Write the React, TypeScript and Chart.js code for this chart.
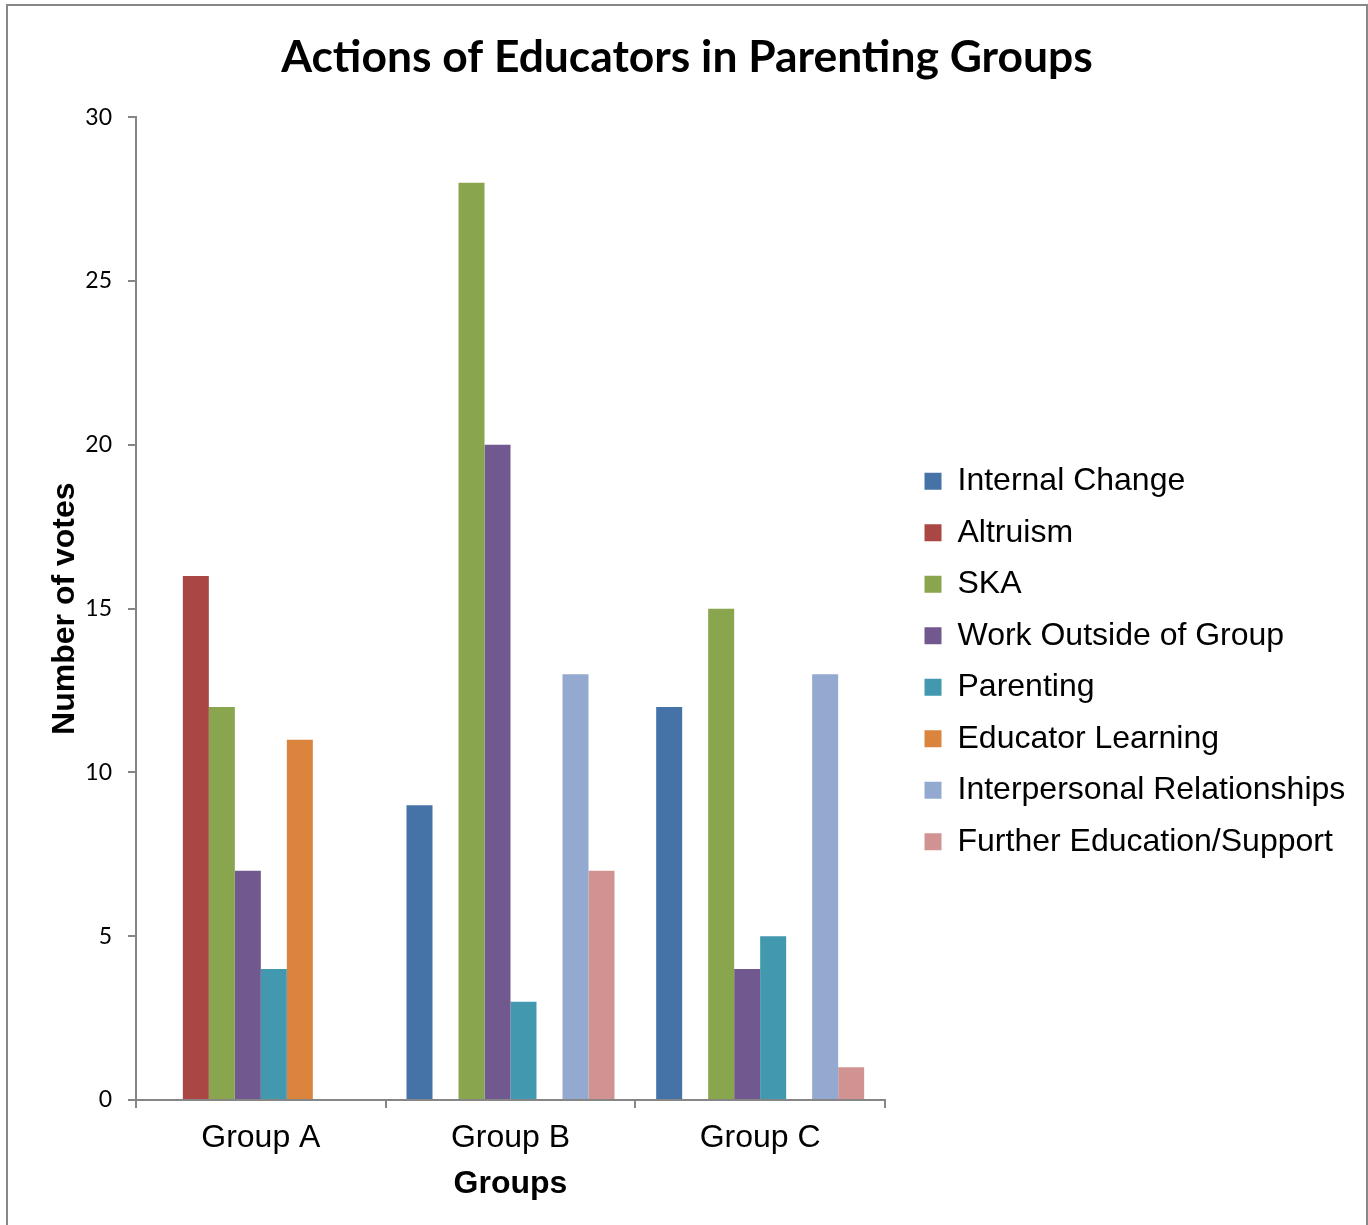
import React, { useEffect, useRef } from "react";
import { Chart, registerables } from "chart.js";

Chart.register(...registerables);

const categories = ["Group A", "Group B", "Group C"];
const seriesNames = [
  "Internal Change",
  "Altruism",
  "SKA",
  "Work Outside of Group",
  "Parenting",
  "Educator Learning",
  "Interpersonal Relationships",
  "Further Education/Support",
];
const internalChange = [0, 9, 12];
const altruism = [16, 0, 0];
const ska = [12, 28, 15];
const workOutside = [7, 20, 4];
const parenting = [4, 3, 5];
const educatorLearning = [11, 0, 0];
const interpersonal = [0, 13, 13];
const furtherEducation = [0, 7, 1];
const seriesColors = ["#4572A7", "#AA4643", "#89A54E", "#71588F", "#4198AF", "#DB843D", "#93A9CF", "#D19392"];
const yTicks = [0, 5, 10, 15, 20, 25, 30];

const AXIS = "#868686";
const ARIAL = "'Liberation Sans', Arial, sans-serif";

const layoutFix = {
  id: "layoutFix",
  afterLayout(chart: any) {
    const l = chart.legend;
    if (l) {
      const dx = 20;
      const dy = 52;
      l.left += dx;
      l.right = chart.width;
      l.width = l.right - l.left;
      l.top += dy;
      l.bottom += dy;
    }
    const t = chart.titleBlock;
    if (t) {
      t.left = 0;
      t.right = chart.width;
      t.width = chart.width;
    }
  },
};

export default function App() {
  const ref = useRef<HTMLCanvasElement | null>(null);
  useEffect(() => {
    if (!ref.current) return;
    const values = [internalChange, altruism, ska, workOutside, parenting, educatorLearning, interpersonal, furtherEducation];
    const chart = new Chart(ref.current, {
      type: "bar",
      data: {
        labels: categories,
        datasets: seriesNames.map((name, i) => ({
          label: name,
          data: values[i],
          backgroundColor: seriesColors[i],
          borderWidth: 0,
          barPercentage: 1,
          categoryPercentage: 0.833,
        })),
      },
      options: {
        animation: false,
        responsive: false,
        maintainAspectRatio: false,
        layout: { padding: { left: 34, right: 200, top: 0, bottom: 10 } },
        plugins: {
          title: {
            display: true,
            text: "Actions of Educators in Parenting Groups",
            color: "#000",
            font: { family: "Lato", weight: "bold", size: 44.4 },
            padding: { top: 25, bottom: 33 },
          },
          legend: {
            display: true,
            position: "right",
            align: "center",
            labels: {
              color: "#000",
              font: { family: ARIAL, size: 32 },
              boxWidth: 17,
              boxHeight: 17,
              padding: 19.5,
            },
          },
          tooltip: { enabled: false },
        },
        scales: {
          x: {
            afterFit(scale: any) {
              scale.height = 113;
            },
            grid: {
              display: true,
              drawOnChartArea: false,
              drawTicks: true,
              tickLength: 8,
              color: AXIS,
              lineWidth: 2,
              offset: true,
            },
            border: { display: true, color: AXIS, width: 2 },
            ticks: {
              color: "#000",
              font: { family: ARIAL, size: 32 },
              padding: 11,
            },
            title: {
              display: true,
              text: "Groups",
              color: "#000",
              font: { family: ARIAL, size: 32, weight: "bold" },
              padding: { top: 4, bottom: 10 },
            },
          },
          y: {
            min: 0,
            max: 30,
            afterFit(scale: any) {
              scale.width = 94;
            },
            afterBuildTicks(scale: any) {
              scale.ticks = yTicks.map((v) => ({ value: v }));
            },
            grid: {
              display: true,
              drawOnChartArea: false,
              drawTicks: true,
              tickLength: 8,
              color: AXIS,
              lineWidth: 2,
            },
            border: { display: true, color: AXIS, width: 2 },
            ticks: {
              color: "#000",
              font: { family: "Lato", size: 23 },
              padding: 16,
            },
            title: {
              display: true,
              text: "Number of votes",
              color: "#000",
              font: { family: ARIAL, size: 32, weight: "bold" },
              padding: { top: 4, bottom: 0 },
            },
          },
        },
      },
      plugins: [layoutFix],
    });
    return () => chart.destroy();
  }, []);

  return (
    <div
      style={{
        position: "absolute",
        left: 6,
        top: 4,
        width: 1358,
        height: 1230,
        border: "2px solid #878787",
        background: "#fff",
      }}
    >
      <canvas ref={ref} width={1358} height={1217} style={{ display: "block" }} />
    </div>
  );
}
